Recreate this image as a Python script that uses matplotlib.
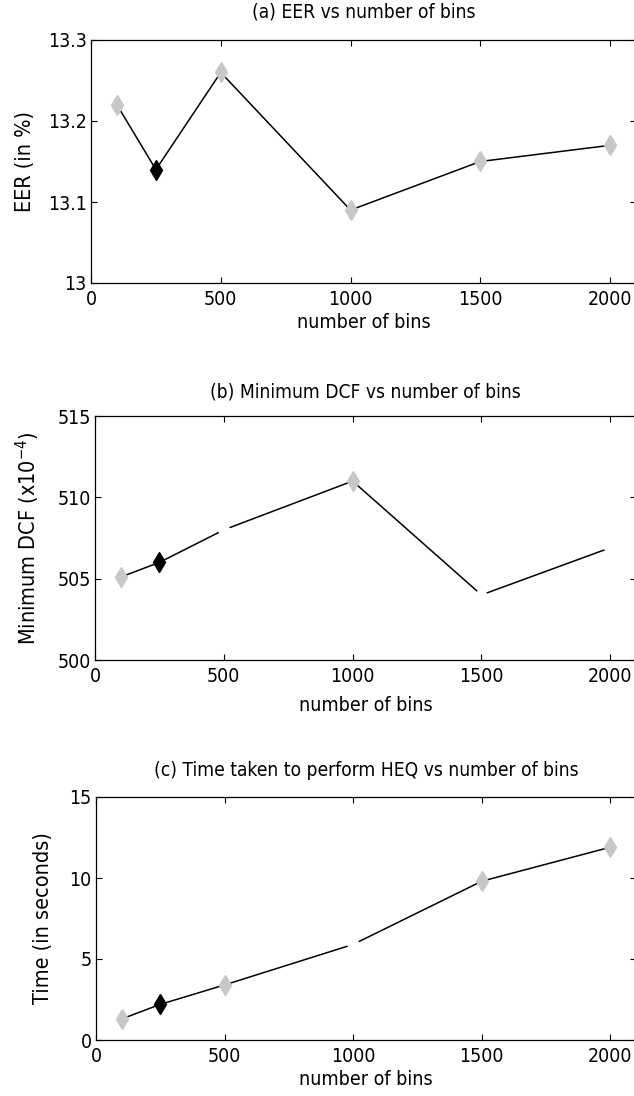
import matplotlib
matplotlib.use("Agg")
import matplotlib.pyplot as plt
from matplotlib import font_manager

bins = [100, 250, 500, 1000, 1500, 2000]
eer = [13.22, 13.14, 13.26, 13.09, 13.15, 13.17]
min_dcf = [505.1, 506.0, 508.0, 511.0, 504.0, 506.9]
heq_time = [1.3, 2.2, 3.4, 5.9, 9.8, 11.9]

eer_colors = ["#c8c8c8", "black", "#c8c8c8", "#c8c8c8", "#c8c8c8", "#c8c8c8"]
dcf_colors = ["#c8c8c8", "black", "white", "#c8c8c8", "white", "white"]
time_colors = ["#c8c8c8", "black", "#c8c8c8", "white", "#c8c8c8", "#c8c8c8"]

titles = ["(a) EER vs number of bins",
          "(b) Minimum DCF vs number of bins",
          "(c) Time taken to perform HEQ vs number of bins"]
ylabels = ["EER (in %)", "Minimum DCF (x10$^{-4}$)", "Time (in seconds)"]
yticks = [[13, 13.1, 13.2, 13.3], [500, 505, 510, 515], [0, 5, 10, 15]]
ytick_labels = [["13", "13.1", "13.2", "13.3"], ["500", "505", "510", "515"], ["0", "5", "10", "15"]]
xticks = [0, 500, 1000, 1500, 2000]

fonts = font_manager.fontManager.ttflist
names = {f.name for f in fonts}
stretch = "normal"
if "Liberation Sans Narrow" in names:
    fam = "Liberation Sans Narrow"
elif any(f.name == "DejaVu Sans" and f.stretch == "condensed" for f in fonts):
    fam = "DejaVu Sans"
    stretch = "condensed"
else:
    fam = "Liberation Sans"
plt.rcParams["font.family"] = [fam, "DejaVu Sans"]
plt.rcParams["font.stretch"] = stretch
plt.rcParams["mathtext.fontset"] = "custom"
plt.rcParams["mathtext.rm"] = fam

W, H = 634, 1096
fig = plt.figure(figsize=(W / 100, H / 100), dpi=100)

boxes = [(91, 40, 283), (95, 416, 660), (96, 797, 1040)]
ylabel_x = [35, 42, 53]
title_pads = [16, 13, 15]
xlabel_pads = [3, 7.5, 3]
series = [eer, min_dcf, heq_time]
colors = [eer_colors, dcf_colors, time_colors]

for i in range(3):
    l, t, b = boxes[i]
    ax = fig.add_axes([l / W, 1 - b / H, (W + 2 - l) / W, (b - t) / H])
    ax.plot(bins, series[i], color="black", lw=1.1, zorder=2)
    for xv, yv, c in zip(bins, series[i], colors[i]):
        ax.plot([xv], [yv], marker="d", ms=10.5, color=c, mec=c, ls="none", zorder=3)
    ax.set_xlim(0, 2100)
    ax.set_ylim(yticks[i][0], yticks[i][-1])
    ax.set_xticks(xticks)
    ax.set_xticklabels([str(v) for v in xticks])
    ax.set_yticks(yticks[i])
    ax.set_yticklabels(ytick_labels[i])
    ax.tick_params(direction="in", top=True, right=True, labelsize=14, length=4, width=0.8)
    ax.tick_params(axis="x", pad=5)
    ax.tick_params(axis="y", pad=3)
    ax.set_title(titles[i], fontsize=13.8, pad=title_pads[i])
    ax.set_xlabel("number of bins", fontsize=14, labelpad=xlabel_pads[i])
    ax.set_ylabel(ylabels[i], fontsize=15.5)
    ax.yaxis.set_label_coords((ylabel_x[i] - l) / (W + 2 - l), 0.5)
    for s in ax.spines.values():
        s.set_linewidth(0.9)

fig.savefig("out.png", dpi=100)
